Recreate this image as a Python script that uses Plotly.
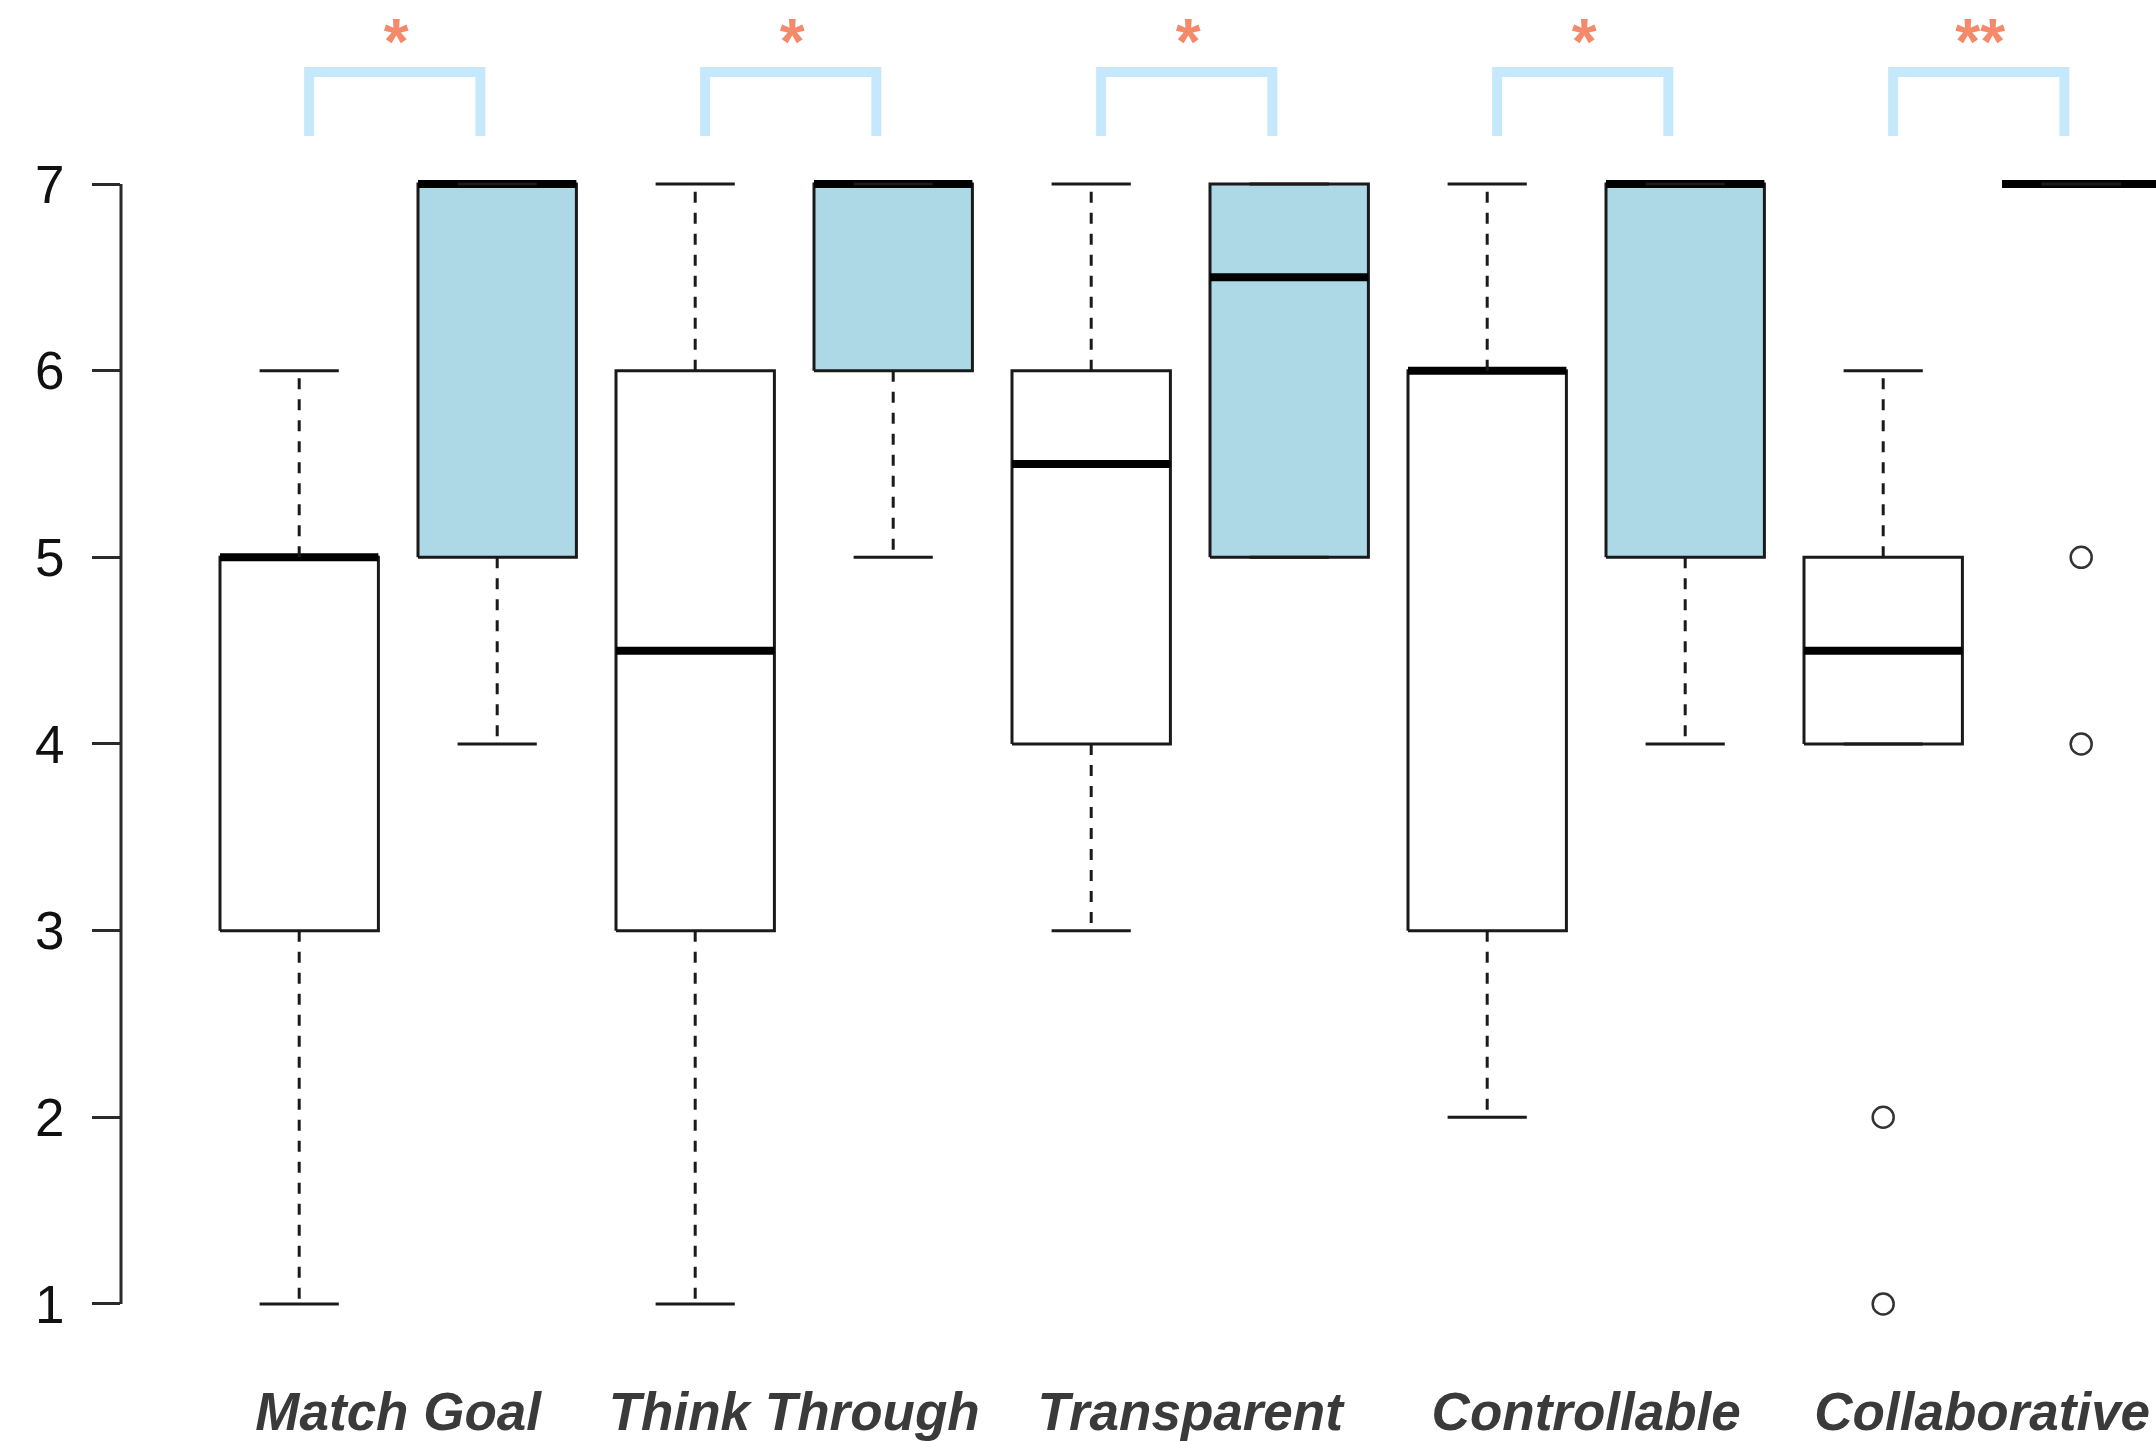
import plotly.graph_objects as go

# Likert ratings (1-7) per criterion, baseline (white) vs. tool (blue)
categories = ["Match Goal", "Think Through", "Transparent", "Controllable", "Collaborative"]

base_low = [1, 1, 3, 2, 4]
base_q1 = [3, 3, 4, 3, 4]
base_median = [5, 4.5, 5.5, 6, 4.5]
base_q3 = [5, 6, 6, 6, 5]
base_high = [6, 7, 7, 7, 6]
base_outliers = [[], [], [], [], [2, 1]]

tool_low = [4, 5, 5, 4, 7]
tool_q1 = [5, 6, 5, 5, 7]
tool_median = [7, 7, 6.5, 7, 7]
tool_q3 = [7, 7, 7, 7, 7]
tool_high = [7, 7, 7, 7, 7]
tool_outliers = [[], [], [], [], [5, 4]]

significance = ["*", "*", "*", "*", "**"]
y_ticks = [1, 2, 3, 4, 5, 6, 7]

# styling
BOX_W = 0.8
STAPLE_W = 0.4
INK = "#1a1a1a"
BLUE_FILL = "#add8e6"
BRACKET = "#c6e8fc"
STAR = "#f5896a"
LABEL = "#3a3a3a"
FONT = "Liberation Sans, Arial, sans-serif"

W, H = 2156, 1441
M_L, M_B = 121, 93
X_RANGE = [0.1, 0.1 + (W - M_L) / 198.0]
Y_RANGE = [0.764, 7.986]

fig = go.Figure()


def add_box(pos, low, q1, med, q3, high, outs, fill):
    half = BOX_W / 2
    # box body
    fig.add_trace(go.Scatter(
        x=[pos - half, pos + half, pos + half, pos - half, pos - half],
        y=[q1, q1, q3, q3, q1],
        mode="lines", fill="toself", fillcolor=fill,
        line=dict(color=INK, width=3), hoverinfo="skip", showlegend=False))
    # median
    fig.add_trace(go.Scatter(
        x=[pos - half, pos + half], y=[med, med], mode="lines",
        line=dict(color="#000000", width=8), hoverinfo="skip", showlegend=False))
    # dashed whiskers
    fig.add_trace(go.Scatter(
        x=[pos, pos, None, pos, pos], y=[q3, high, None, q1, low], mode="lines",
        line=dict(color=INK, width=3, dash="11px,10px"),
        hoverinfo="skip", showlegend=False))
    # staples
    s = STAPLE_W / 2
    fig.add_trace(go.Scatter(
        x=[pos - s, pos + s, None, pos - s, pos + s], y=[high, high, None, low, low],
        mode="lines", line=dict(color=INK, width=3),
        hoverinfo="skip", showlegend=False))
    if outs:
        fig.add_trace(go.Scatter(
            x=[pos] * len(outs), y=outs, mode="markers",
            marker=dict(symbol="circle-open", size=21, color="#333333",
                        line=dict(width=2.5, color="#333333")),
            hoverinfo="skip", showlegend=False))


for i, _ in enumerate(categories):
    p_base = 2 * i + 1
    p_tool = 2 * i + 2
    add_box(p_base, base_low[i], base_q1[i], base_median[i], base_q3[i],
            base_high[i], base_outliers[i], "#ffffff")
    add_box(p_tool, tool_low[i], tool_q1[i], tool_median[i], tool_q3[i],
            tool_high[i], tool_outliers[i], BLUE_FILL)

# significance brackets and stars
BR_LEFT, BR_RIGHT = 0.05, 0.915
BR_BOTTOM, BR_TOP = 7.257, 7.60
STAR_Y = 7.73
for i, mark in enumerate(significance):
    p = 2 * i + 1
    fig.add_trace(go.Scatter(
        x=[p + BR_LEFT, p + BR_LEFT, p + BR_RIGHT, p + BR_RIGHT],
        y=[BR_BOTTOM, BR_TOP, BR_TOP, BR_BOTTOM], mode="lines",
        line=dict(color=BRACKET, width=10), hoverinfo="skip", showlegend=False))
    fig.add_trace(go.Scatter(
        x=[p + 0.49], y=[STAR_Y], mode="text", text=[mark],
        textposition="middle center",
        textfont=dict(family=FONT, size=64, color=STAR, weight="bold"),
        hoverinfo="skip", showlegend=False, cliponaxis=False))

# left axis line spanning the rating scale only
fig.add_shape(type="line", xref="paper", yref="y", x0=0, x1=0,
              y0=min(y_ticks), y1=max(y_ticks),
              line=dict(color="#2a2a2a", width=3))

fig.update_layout(
    width=W, height=H,
    margin=dict(l=M_L, r=0, t=0, b=M_B, pad=0),
    paper_bgcolor="white", plot_bgcolor="white",
    xaxis=dict(
        range=X_RANGE, showgrid=False, zeroline=False, showline=False,
        tickmode="array", tickvals=[2 * i + 1.5 for i in range(len(categories))],
        ticktext=categories, ticks="", ticklabelstandoff=28,
        tickfont=dict(family=FONT, size=53, color=LABEL, weight="bold", style="italic"),
    ),
    yaxis=dict(
        range=Y_RANGE, showgrid=False, zeroline=False, showline=False,
        tickmode="array", tickvals=y_ticks, ticks="outside", ticklen=28,
        tickwidth=2.5, tickcolor="#2a2a2a", ticklabelstandoff=17,
        tickfont=dict(family=FONT, size=53, color="#111111"),
    ),
    showlegend=False,
)

fig.write_html("out.html", config={"displayModeBar": False})
